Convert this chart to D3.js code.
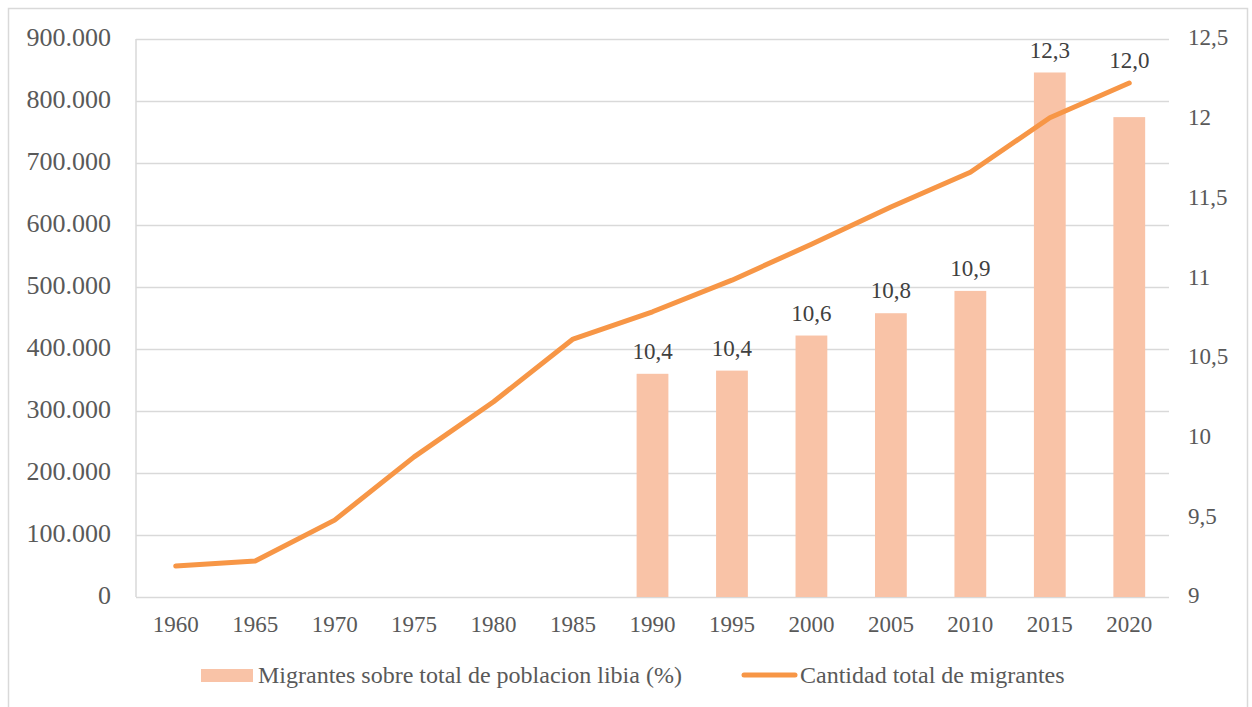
<!DOCTYPE html>
<html lang="es">
<head>
  <meta charset="UTF-8">
  <title>Migrantes Libia</title>
  <script src="https://d3js.org/d3.v7.min.js"></script>
  <style>
    body { margin: 0; background: #fff; }
    .grid line { stroke: #d9d9d9; stroke-width: 1.5; }
  </style>
</head>
<body>
<svg id="migrantesLibia" width="1252" height="707"></svg>
<script>
  // data
  const years = ["1960", "1965", "1970", "1975", "1980", "1985", "1990", "1995", "2000", "2005", "2010", "2015", "2020"];
  // total number of migrants (left axis, line)
  const migrantes = [50000, 58000, 124000, 226000, 315000, 416000, 460000, 511000, 569000, 629000, 685000, 773000, 829000];
  // migrants as % of libyan population (right axis, bars); null = no bar
  const porcentaje = [null, null, null, null, null, null, 10.40, 10.42, 10.64, 10.78, 10.92, 12.29, 12.01];
  const leftTicks = [0, 100000, 200000, 300000, 400000, 500000, 600000, 700000, 800000, 900000];
  const rightTicks = [9, 9.5, 10, 10.5, 11, 11.5, 12, 12.5];
  const legendLabels = ["Migrantes sobre total de poblacion libia (%)", "Cantidad total de migrantes"];

  const FONT = "Liberation Serif";
  const svg = d3.select("svg#migrantesLibia");
  const plot = {left: 136, right: 1169, top: 39, bottom: 597};

  const es = d3.formatLocale({decimal: ",", thousands: ".", grouping: [3], currency: ["", ""]});
  const fmtLeft = es.format(",d");
  const fmtRight = es.format("~r");
  const fmtLabel = es.format(".1f");

  const x = d3.scaleBand().domain(years).range([plot.left, plot.right]).padding(0);
  const yLeft = d3.scaleLinear().domain([0, 900000]).range([plot.bottom, plot.top]);
  const yRight = d3.scaleLinear().domain([9, 12.5]).range([plot.bottom, plot.top]);

  // outer frame
  svg.append("rect")
     .attr("x", 8.5).attr("y", 8.5)
     .attr("width", 1239).attr("height", 712)
     .attr("fill", "none")
     .attr("stroke", "#d9d9d9")
     .attr("stroke-width", 1.5);

  // gridlines
  svg.append("g")
     .attr("class", "grid")
     .attr("transform", `translate(${plot.left},0)`)
     .call(d3.axisLeft(yLeft).tickValues(leftTicks).tickFormat("").tickSize(-(plot.right - plot.left)))
     .call(g => g.select(".domain").remove());

  // vertical axis line
  svg.append("line")
     .attr("x1", plot.left).attr("x2", plot.left)
     .attr("y1", plot.top).attr("y2", plot.bottom)
     .attr("stroke", "#d9d9d9").attr("stroke-width", 1.5);

  // left axis labels
  const leftAxis = svg.append("g")
     .attr("transform", `translate(${plot.left},0)`)
     .call(d3.axisLeft(yLeft).tickValues(leftTicks).tickFormat(fmtLeft).tickSize(0).tickPadding(25));
  leftAxis.attr("font-family", FONT).attr("font-size", 26);
  leftAxis.select(".domain").remove();
  leftAxis.selectAll("text").attr("dy", "0.26em");

  // right axis labels
  const rightAxis = svg.append("g")
     .attr("transform", `translate(${plot.right},0)`)
     .call(d3.axisRight(yRight).tickValues(rightTicks).tickFormat(fmtRight).tickSize(0).tickPadding(19));
  rightAxis.attr("font-family", FONT).attr("font-size", 23);
  rightAxis.select(".domain").remove();
  rightAxis.selectAll("text").attr("dy", "0.26em");

  // bottom axis labels
  const bottomAxis = svg.append("g")
     .attr("transform", `translate(0,${plot.bottom})`)
     .call(d3.axisBottom(x).tickSize(0).tickPadding(19));
  bottomAxis.attr("font-family", FONT).attr("font-size", 23);
  bottomAxis.select(".domain").remove();

  // bars
  const barW = x.bandwidth() / 2.5;
  const barData = years.map((y, i) => ({year: y, v: porcentaje[i], m: migrantes[i]})).filter(d => d.v !== null);

  svg.append("g").selectAll("rect")
     .data(barData)
     .join("rect")
     .attr("x", d => x(d.year) + x.bandwidth() / 2 - barW / 2)
     .attr("y", d => yRight(d.v))
     .attr("width", barW)
     .attr("height", d => yRight(9) - yRight(d.v))
     .attr("fill", "#f9c3a7");

  // line
  const line = d3.line()
     .x((d, i) => x(years[i]) + x.bandwidth() / 2)
     .y(d => yLeft(d));

  svg.append("path")
     .datum(migrantes)
     .attr("d", line)
     .attr("fill", "none")
     .attr("stroke", "#f79646")
     .attr("stroke-width", 5)
     .attr("stroke-linejoin", "round")
     .attr("stroke-linecap", "round");

  // bar labels, lifted above the line when the line would cross them
  svg.append("g")
     .attr("font-family", FONT)
     .attr("font-size", 23)
     .selectAll("text")
     .data(barData)
     .join("text")
     .attr("x", d => x(d.year) + x.bandwidth() / 2)
     .attr("y", d => {
        const top = yRight(d.v);
        const ly = yLeft(d.m);
        const base = (ly > top - 40 && ly < top) ? ly : top;
        return base - 20;
     })
     .attr("text-anchor", "middle")
     .attr("dominant-baseline", "middle")
     .attr("fill", "#404040")
     .text(d => fmtLabel(d.v));

  // legend
  const legend = svg.append("g")
     .attr("font-family", FONT)
     .attr("font-size", 24);
  legend.append("rect")
        .attr("x", 201).attr("y", 669)
        .attr("width", 52).attr("height", 13)
        .attr("fill", "#f9c3a7");
  legend.append("text")
        .attr("x", 258).attr("y", 677)
        .attr("dominant-baseline", "middle")
        .attr("fill", "#595959")
        .text(legendLabels[0]);
  legend.append("line")
        .attr("x1", 744).attr("x2", 795)
        .attr("y1", 675).attr("y2", 675)
        .attr("stroke", "#f79646")
        .attr("stroke-width", 5)
        .attr("stroke-linecap", "round");
  legend.append("text")
        .attr("x", 800).attr("y", 677)
        .attr("dominant-baseline", "middle")
        .attr("fill", "#595959")
        .text(legendLabels[1]);

  leftAxis.selectAll("text").attr("fill", "#595959");
  rightAxis.selectAll("text").attr("fill", "#595959");
  bottomAxis.selectAll("text").attr("fill", "#595959");
</script>
</body>
</html>
